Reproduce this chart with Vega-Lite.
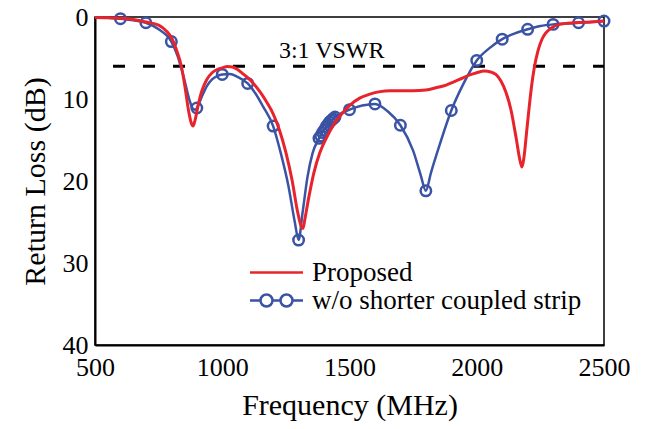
{
  "$schema": "https://vega.github.io/schema/vega-lite/v6.json",
  "width": 509,
  "height": 328,
  "autosize": {"type": "none"},
  "padding": {"left": 95, "top": 17, "right": 44, "bottom": 84},
  "config": {
    "view": {"stroke": "black", "strokeWidth": 1.5},
    "font": "Liberation Serif"
  },
  "datasets": {
    "proposed": [
      {"f": 500, "dB": 0.05}, {"f": 550, "dB": 0.08}, {"f": 600, "dB": 0.15}, {"f": 650, "dB": 0.3},
      {"f": 700, "dB": 0.6}, {"f": 750, "dB": 1.0}, {"f": 780, "dB": 1.7}, {"f": 800, "dB": 2.5},
      {"f": 820, "dB": 4.0}, {"f": 840, "dB": 6.1}, {"f": 855, "dB": 8.8}, {"f": 868, "dB": 11.5},
      {"f": 878, "dB": 12.9}, {"f": 885, "dB": 13.3}, {"f": 893, "dB": 12.6}, {"f": 905, "dB": 10.8},
      {"f": 920, "dB": 9.0}, {"f": 940, "dB": 7.6}, {"f": 960, "dB": 6.8}, {"f": 980, "dB": 6.4},
      {"f": 1000, "dB": 6.2}, {"f": 1020, "dB": 6.05}, {"f": 1040, "dB": 6.1}, {"f": 1060, "dB": 6.4},
      {"f": 1080, "dB": 6.9}, {"f": 1100, "dB": 7.4}, {"f": 1125, "dB": 8.2}, {"f": 1150, "dB": 9.2},
      {"f": 1175, "dB": 10.4}, {"f": 1200, "dB": 11.8}, {"f": 1225, "dB": 13.8}, {"f": 1250, "dB": 16.5},
      {"f": 1275, "dB": 20.0}, {"f": 1295, "dB": 23.6}, {"f": 1310, "dB": 25.5}, {"f": 1317, "dB": 25.8},
      {"f": 1325, "dB": 24.6}, {"f": 1340, "dB": 22.0}, {"f": 1360, "dB": 19.0}, {"f": 1383, "dB": 16.6},
      {"f": 1410, "dB": 14.7}, {"f": 1440, "dB": 13.0}, {"f": 1470, "dB": 11.8}, {"f": 1500, "dB": 10.8},
      {"f": 1540, "dB": 9.9}, {"f": 1580, "dB": 9.4}, {"f": 1620, "dB": 9.1}, {"f": 1660, "dB": 9.0},
      {"f": 1700, "dB": 9.0}, {"f": 1750, "dB": 9.0}, {"f": 1800, "dB": 8.9}, {"f": 1843, "dB": 8.6},
      {"f": 1880, "dB": 8.3}, {"f": 1910, "dB": 7.9}, {"f": 1940, "dB": 7.5}, {"f": 1970, "dB": 7.1},
      {"f": 2000, "dB": 6.8}, {"f": 2030, "dB": 6.6}, {"f": 2055, "dB": 6.7}, {"f": 2075, "dB": 7.0},
      {"f": 2095, "dB": 7.8}, {"f": 2115, "dB": 9.2}, {"f": 2135, "dB": 11.4}, {"f": 2155, "dB": 14.8},
      {"f": 2170, "dB": 17.5}, {"f": 2178, "dB": 18.3}, {"f": 2186, "dB": 17.0}, {"f": 2196, "dB": 14.0},
      {"f": 2206, "dB": 11.0}, {"f": 2216, "dB": 8.3}, {"f": 2226, "dB": 6.2}, {"f": 2240, "dB": 4.2},
      {"f": 2255, "dB": 2.8}, {"f": 2270, "dB": 2.0}, {"f": 2290, "dB": 1.4}, {"f": 2325, "dB": 0.9},
      {"f": 2385, "dB": 0.7}, {"f": 2450, "dB": 0.6}, {"f": 2500, "dB": 0.5}
    ],
    "without": [
      {"f": 500, "dB": 0.05}, {"f": 550, "dB": 0.1}, {"f": 600, "dB": 0.2}, {"f": 650, "dB": 0.4},
      {"f": 700, "dB": 0.7}, {"f": 750, "dB": 1.5}, {"f": 800, "dB": 3.0}, {"f": 825, "dB": 4.8},
      {"f": 850, "dB": 7.5}, {"f": 870, "dB": 10.0}, {"f": 885, "dB": 11.2}, {"f": 895, "dB": 11.3},
      {"f": 905, "dB": 10.8}, {"f": 920, "dB": 9.7}, {"f": 940, "dB": 8.4}, {"f": 960, "dB": 7.6},
      {"f": 980, "dB": 7.2}, {"f": 1000, "dB": 7.0}, {"f": 1030, "dB": 6.95}, {"f": 1060, "dB": 7.3},
      {"f": 1100, "dB": 8.1}, {"f": 1130, "dB": 9.3}, {"f": 1160, "dB": 10.9}, {"f": 1200, "dB": 13.3},
      {"f": 1230, "dB": 16.6}, {"f": 1260, "dB": 20.6}, {"f": 1285, "dB": 25.0}, {"f": 1300, "dB": 27.2},
      {"f": 1315, "dB": 24.0}, {"f": 1335, "dB": 19.5}, {"f": 1355, "dB": 16.6}, {"f": 1380, "dB": 14.8},
      {"f": 1410, "dB": 13.3}, {"f": 1443, "dB": 12.2}, {"f": 1470, "dB": 11.7}, {"f": 1500, "dB": 11.3},
      {"f": 1550, "dB": 10.8}, {"f": 1600, "dB": 10.6}, {"f": 1650, "dB": 11.5}, {"f": 1700, "dB": 13.2},
      {"f": 1750, "dB": 16.3}, {"f": 1780, "dB": 19.3}, {"f": 1800, "dB": 21.2}, {"f": 1820, "dB": 19.0},
      {"f": 1850, "dB": 16.0}, {"f": 1900, "dB": 11.4}, {"f": 1950, "dB": 8.0}, {"f": 2000, "dB": 5.3},
      {"f": 2050, "dB": 3.8}, {"f": 2100, "dB": 2.7}, {"f": 2150, "dB": 2.0}, {"f": 2200, "dB": 1.5},
      {"f": 2250, "dB": 1.1}, {"f": 2300, "dB": 0.9}, {"f": 2350, "dB": 0.8}, {"f": 2400, "dB": 0.7},
      {"f": 2450, "dB": 0.6}, {"f": 2500, "dB": 0.5}
    ],
    "markers": [
      {"f": 600, "dB": 0.2}, {"f": 700, "dB": 0.7}, {"f": 800, "dB": 3.0}, {"f": 900, "dB": 11.1},
      {"f": 1000, "dB": 7.0}, {"f": 1100, "dB": 8.1}, {"f": 1200, "dB": 13.3}, {"f": 1300, "dB": 27.2},
      {"f": 1380, "dB": 14.8}, {"f": 1387, "dB": 14.5}, {"f": 1394, "dB": 14.1}, {"f": 1401, "dB": 13.8},
      {"f": 1408, "dB": 13.4}, {"f": 1415, "dB": 13.1}, {"f": 1422, "dB": 12.8}, {"f": 1429, "dB": 12.6},
      {"f": 1436, "dB": 12.4}, {"f": 1443, "dB": 12.2}, {"f": 1500, "dB": 11.3}, {"f": 1600, "dB": 10.6},
      {"f": 1700, "dB": 13.2}, {"f": 1800, "dB": 21.2}, {"f": 1900, "dB": 11.4}, {"f": 2000, "dB": 5.3},
      {"f": 2100, "dB": 2.7}, {"f": 2200, "dB": 1.5}, {"f": 2300, "dB": 0.9}, {"f": 2400, "dB": 0.7},
      {"f": 2500, "dB": 0.5}
    ],
    "vswrLine": [{"f": 500, "f2": 2500, "dB": 6}],
    "vswrLabel": [{"f": 1430, "dB": 6, "label": "3:1 VSWR"}],
    "xMajor": [{"f": 1000}, {"f": 1500}, {"f": 2000}],
    "xMinor": [{"f": 600}, {"f": 700}, {"f": 800}, {"f": 900}, {"f": 1100}, {"f": 1200}, {"f": 1300}, {"f": 1400}, {"f": 1600}, {"f": 1700}, {"f": 1800}, {"f": 1900}, {"f": 2100}, {"f": 2200}, {"f": 2300}, {"f": 2400}],
    "yMajor": [{"dB": 10}, {"dB": 20}, {"dB": 30}],
    "yMinor": [{"dB": 2}, {"dB": 4}, {"dB": 6}, {"dB": 8}, {"dB": 12}, {"dB": 14}, {"dB": 16}, {"dB": 18}, {"dB": 22}, {"dB": 24}, {"dB": 26}, {"dB": 28}, {"dB": 32}, {"dB": 34}, {"dB": 36}, {"dB": 38}]
  },
  "encoding": {
    "x": {
      "field": "f", "type": "quantitative",
      "scale": {"domain": [500, 2500], "nice": false, "zero": false},
      "axis": {
        "title": "Frequency (MHz)",
        "values": [500, 1000, 1500, 2000, 2500],
        "format": "d",
        "labelFlush": false,
        "grid": false, "ticks": false, "tickSize": 0,
        "domainColor": "black", "domainWidth": 2,
        "labelFont": "Liberation Serif", "labelFontSize": 26, "labelColor": "black", "labelPadding": 9,
        "titleFont": "Liberation Serif", "titleFontSize": 30, "titleFontWeight": "normal", "titleColor": "black", "titlePadding": 10
      }
    },
    "y": {
      "field": "dB", "type": "quantitative",
      "scale": {"domain": [0, 40], "reverse": true, "nice": false},
      "axis": {
        "title": "Return Loss (dB)",
        "values": [0, 10, 20, 30, 40],
        "labelFlush": false,
        "grid": false, "ticks": false, "tickSize": 0,
        "domainColor": "black", "domainWidth": 2,
        "labelFont": "Liberation Serif", "labelFontSize": 26, "labelColor": "black", "labelPadding": 7,
        "titleFont": "Liberation Serif", "titleFontSize": 30, "titleFontWeight": "normal", "titleColor": "black", "titlePadding": 12
      }
    }
  },
  "layer": [
    {
      "data": {"name": "vswrLine"},
      "mark": {"type": "rule", "color": "black", "strokeWidth": 3, "strokeDash": [12, 18], "strokeDashOffset": 12},
      "encoding": {"x2": {"field": "f2"}}
    },
    {
      "data": {"name": "vswrLabel"},
      "mark": {"type": "text", "font": "Liberation Serif", "fontSize": 24, "align": "center", "baseline": "alphabetic", "color": "black", "dy": -8},
      "encoding": {"text": {"field": "label"}}
    },
    {
      "data": {"name": "without"},
      "transform": [{"calculate": "'w/o shorter coupled strip'", "as": "series"}],
      "mark": {"type": "line", "interpolate": "monotone", "strokeWidth": 2.5},
      "encoding": {
        "color": {
          "field": "series", "type": "nominal",
          "scale": {"domain": ["Proposed", "w/o shorter coupled strip"], "range": ["#e8232b", "#3a53a4"]},
          "legend": {
            "title": null, "orient": "none", "legendX": 168, "legendY": 242,
            "labelFont": "Liberation Serif", "labelFontSize": 27, "labelColor": "black", "labelLimit": 500,
            "symbolSize": 400, "labelOffset": 22, "rowPadding": 0, "padding": 0, "symbolStrokeWidth": 2.5,
            "encode": {"symbols": {"update": {"shape": {"signal": "datum.value === 'Proposed' ? 'M-2.65,0H2.65' : 'M-2.65,0H-1.6M-0.4,0H0.4M1.6,0H2.65M-1.6,0A0.6,0.6 0 1,0 -0.4,0A0.6,0.6 0 1,0 -1.6,0M0.4,0A0.6,0.6 0 1,0 1.6,0A0.6,0.6 0 1,0 0.4,0'"}, "fill": {"value": "transparent"}}}}
          }
        }
      }
    },
    {
      "data": {"name": "markers"},
      "mark": {"type": "point", "shape": "circle", "filled": false, "size": 110, "strokeWidth": 2.5, "color": "#3a53a4", "opacity": 1}
    },
    {
      "data": {"name": "proposed"},
      "transform": [{"calculate": "'Proposed'", "as": "series"}],
      "mark": {"type": "line", "interpolate": "monotone", "strokeWidth": 3},
      "encoding": {"color": {"field": "series", "type": "nominal"}}
    },
    {
      "data": {"name": "xMajor"},
      "mark": {"type": "rule", "color": "black", "strokeWidth": 2, "opacity": 1},
      "encoding": {"y": {"datum": 40}, "y2": {"datum": 39.05}}
    },
    {
      "data": {"name": "xMinor"},
      "mark": {"type": "rule", "color": "black", "strokeWidth": 2, "opacity": 1},
      "encoding": {"y": {"datum": 40}, "y2": {"datum": 39.45}}
    },
    {
      "data": {"name": "yMajor"},
      "mark": {"type": "rule", "color": "black", "strokeWidth": 2, "opacity": 1},
      "encoding": {"x": {"datum": 500}, "x2": {"datum": 530}}
    },
    {
      "data": {"name": "yMinor"},
      "mark": {"type": "rule", "color": "black", "strokeWidth": 2, "opacity": 1},
      "encoding": {"x": {"datum": 500}, "x2": {"datum": 517}}
    }
  ]
}
